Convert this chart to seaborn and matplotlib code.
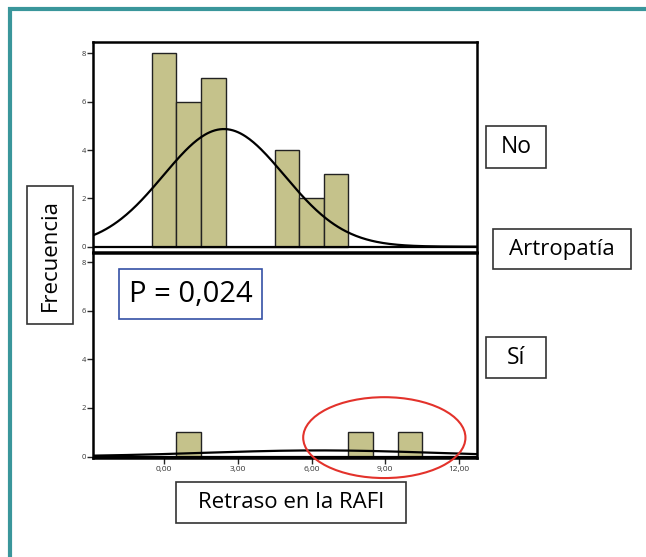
import numpy as np
import pandas as pd
import seaborn as sns
import matplotlib.pyplot as plt
from matplotlib.patches import Rectangle, Ellipse

# Retraso en la RAFI (valor) y frecuencia de cada grupo de Artropatía
retraso_no = [0, 1, 2, 5, 6, 7]
frec_no = [8, 6, 7, 4, 2, 3]
retraso_si = [1, 8, 10]
frec_si = [1, 1, 1]

xticks = [0, 3, 6, 9, 12]
xtick_labels = ['0,00', '3,00', '6,00', '9,00', '12,00']
yticks = [0, 2, 4, 6, 8]

p_text = 'P = 0,024'
bar_color = '#c5c28b'

sns.set_style('white')
plt.rcParams['font.family'] = ['Open Sans', 'DejaVu Sans']

fig = plt.figure(figsize=(6.46, 5.57), dpi=100)
ax_no = fig.add_axes([0.144, 0.5476, 0.594, 0.377])
ax_si = fig.add_axes([0.144, 0.1777, 0.594, 0.368])

xlim = (-2.89, 12.72)
grid = np.linspace(xlim[0], xlim[1], 300)


def normal_curve(values, counts):
    # curva normal escalada a frecuencias (ancho de clase = 1)
    data = np.repeat(values, counts)
    mu, sd = data.mean(), data.std(ddof=1)
    dens = np.exp(-0.5 * ((grid - mu) / sd) ** 2) / (sd * np.sqrt(2 * np.pi))
    return pd.DataFrame({'x': grid, 'y': dens * len(data)})


for ax, vals, cnts, ylim in [(ax_no, retraso_no, frec_no, (-0.22, 8.47)),
                             (ax_si, retraso_si, frec_si, (-0.06, 8.38))]:
    sns.histplot(x=vals, weights=cnts, discrete=True, ax=ax, color=bar_color,
                 edgecolor='#222222', linewidth=1, alpha=1)
    curve = normal_curve(vals, cnts)
    sns.lineplot(data=curve, x='x', y='y', ax=ax, color='black', linewidth=1.6)
    ax.axhline(0, color='black', linewidth=1.6)
    ax.set_xlim(*xlim)
    ax.set_ylim(*ylim)
    ax.set_yticks(yticks)
    ax.set_xlabel('')
    ax.set_ylabel('')
    ax.tick_params(axis='y', direction='out', length=4, width=1, left=True,
                   labelsize=5.5, labelcolor='#333333', pad=1)
    for sp in ax.spines.values():
        sp.set_color('black')
        sp.set_linewidth(1.8)

ax_no.set_xticks([])
ax_si.set_xticks(xticks)
ax_si.set_xticklabels(xtick_labels)
ax_si.tick_params(axis='x', direction='out', length=4, width=1, bottom=True,
                  labelsize=6, labelcolor='#333333', pad=2)

# elipse roja sobre los casos con mayor retraso
ax_si.add_patch(Ellipse((8.96, 0.78), 6.6, 3.33, fill=False, edgecolor='#e3322b',
                        linewidth=1.5, clip_on=False, zorder=5))

W, H = 646, 557


def text_box(x0, y0, x1, y1, text, size, edge='#333333', rotation=0):
    fig.patches.append(Rectangle((x0 / W, 1 - y1 / H), (x1 - x0) / W, (y1 - y0) / H,
                                 transform=fig.transFigure, fill=True, facecolor='white',
                                 edgecolor=edge, linewidth=1.2))
    fig.text((x0 + x1) / 2 / W, 1 - (y0 + y1) / 2 / H, text, ha='center', va='center',
             fontsize=size, rotation=rotation, color='black')


text_box(27, 186, 73, 324, 'Frecuencia', 16, rotation=90)
text_box(486, 126, 546, 168, 'No', 16.5)
text_box(493, 229, 631, 269, 'Artropatía', 16)
text_box(486, 337, 546, 378, 'Sí', 16.5)
text_box(119, 269, 262, 319, p_text, 21, edge='#3550a5')
text_box(176, 482, 406, 523, 'Retraso en la RAFI', 16)

# marco verde azulado
teal = '#3a969b'
fig.add_artist(plt.Line2D([8 / W, 1], [1 - 8.5 / H, 1 - 8.5 / H], color=teal,
                          linewidth=3, solid_capstyle='butt', transform=fig.transFigure))
fig.add_artist(plt.Line2D([10 / W, 10 / W], [0, 1 - 7 / H], color=teal,
                          linewidth=3, solid_capstyle='butt', transform=fig.transFigure))

fig.savefig('out.png', dpi=100)
